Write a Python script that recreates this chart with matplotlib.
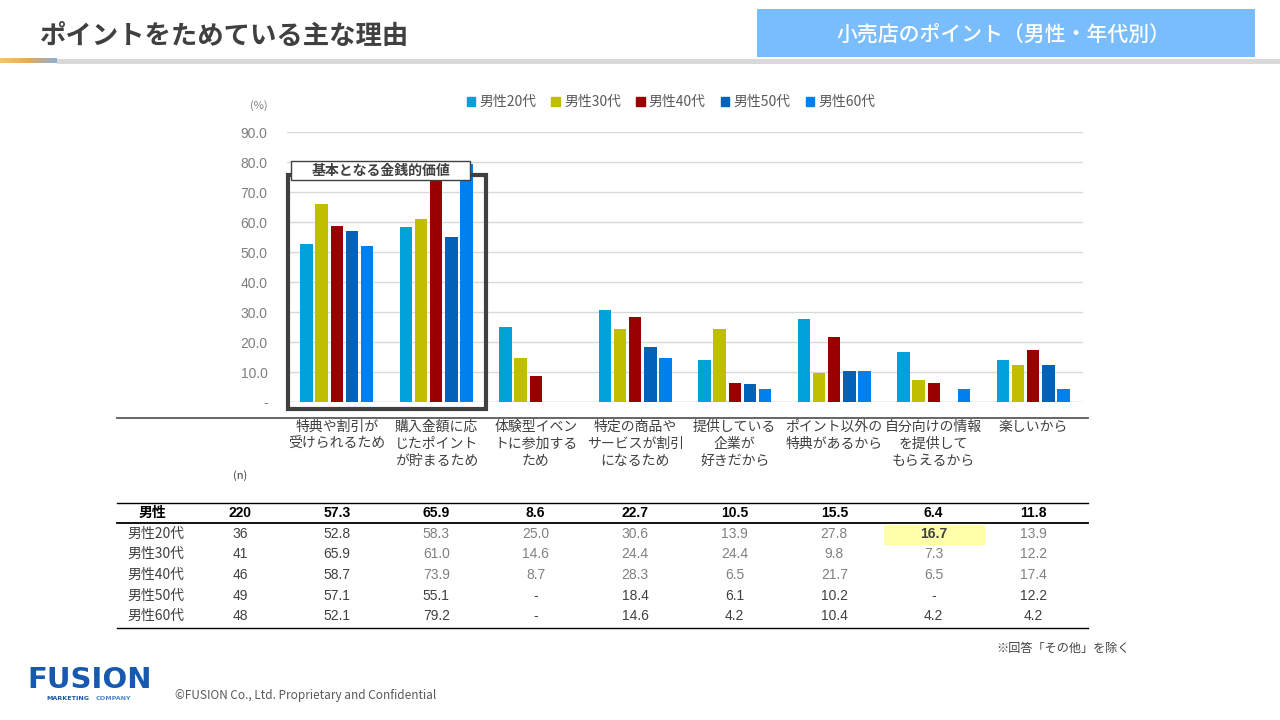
import matplotlib
matplotlib.use("Agg")
import matplotlib.pyplot as plt
from matplotlib.patches import Rectangle, Patch
from matplotlib.colors import LinearSegmentedColormap
import numpy as np

plt.rcParams['font.family'] = ['Noto Sans CJK JP', 'DejaVu Sans']

# ---------------- data ----------------
categories = ["特典や割引が\n受けられるため", "購入金額に応\nじたポイント\nが貯まるため",
              "体験型イベン\nトに参加する\nため", "特定の商品や\nサービスが割引\nになるため",
              "提供している\n企業が\n好きだから", "ポイント以外の\n特典があるから",
              "自分向けの情報\nを提供して\nもらえるから", "楽しいから"]
series_names = ["男性20代", "男性30代", "男性40代", "男性50代", "男性60代"]
s20 = [52.8, 58.3, 25.0, 30.6, 13.9, 27.8, 16.7, 13.9]
s30 = [65.9, 61.0, 14.6, 24.4, 24.4, 9.8, 7.3, 12.2]
s40 = [58.7, 73.9, 8.7, 28.3, 6.5, 21.7, 6.5, 17.4]
s50 = [57.1, 55.1, None, 18.4, 6.1, 10.2, None, 12.2]
s60 = [52.1, 79.2, None, 14.6, 4.2, 10.4, 4.2, 4.2]
total_label = "男性"
total_values = [57.3, 65.9, 8.6, 22.7, 10.5, 15.5, 6.4, 11.8]
n_total = 220
n_series = [36, 41, 46, 49, 48]
yticks = [0, 10, 20, 30, 40, 50, 60, 70, 80, 90]
ytick_labels = ["-", "10.0", "20.0", "30.0", "40.0", "50.0", "60.0", "70.0", "80.0", "90.0"]
colors = ["#00A2D9", "#BFBF00", "#990000", "#0062B8", "#0080EE"]

series = [s20, s30, s40, s50, s60]

W, H = 1280, 720
fig = plt.figure(figsize=(12.8, 7.2), dpi=100)

# overlay axes in pixel coordinates
ov = fig.add_axes([0, 0, 1, 1])
ov.set_xlim(0, W)
ov.set_ylim(H, 0)
ov.axis('off')
ov.set_zorder(0)

# ---------- header ----------
ov.text(40, 37, "ポイントをためている主な理由", fontsize=19, fontweight='bold',
        color='#404040', va='center', ha='left')
ov.add_patch(Rectangle((57, 59), W - 57, 4.5, color='#D9D9D9', lw=0))
grad = np.linspace(0, 1, 100).reshape(1, -1)
cm = LinearSegmentedColormap.from_list('g', ['#F8C27A', '#E8A860', '#8BB0D0'])
ov.imshow(grad, cmap=cm, extent=(0, 57, 63.5, 59), aspect='auto')
ov.add_patch(Rectangle((757, 9), 498, 48, color='#79BDFD', lw=0))
ov.text(1003, 35, "小売店のポイント（男性・年代別）", fontsize=15, color='white',
        fontweight='medium', ha='center', va='center')

# ---------- chart ----------
left_px, right_px, top_px, bot_px = 287, 1083, 132, 402
ax = fig.add_axes([left_px / W, 1 - bot_px / H, (right_px - left_px) / W, (bot_px - top_px) / H])
ax.set_zorder(2)
ax.patch.set_alpha(0)
x = np.arange(len(categories))
bw = 0.125
pitch = 0.152
for i, (vals, c) in enumerate(zip(series, colors)):
    v = [0 if a is None else a for a in vals]
    ax.bar(x + (i - 2) * pitch, v, width=bw, color=c, zorder=3)
ax.set_xlim(-0.5, len(categories) - 0.5)
ax.set_ylim(0, 90)
ax.set_yticks(yticks)
ax.set_yticklabels(ytick_labels, fontsize=10, color='#7F7F7F', family=['Liberation Sans', 'DejaVu Sans'])
ax.tick_params(axis='y', length=0, pad=14)
ax.set_xticks([])
ax.grid(axis='y', color='#D9D9D9', lw=1, zorder=0)
for s in ax.spines.values():
    s.set_visible(False)
ax.axhline(0, color='#D9D9D9', lw=1, zorder=1)
ax.set_axisbelow(True)

ov.text(259, 106, "(%)", fontsize=8, color='#7F7F7F', ha='center', va='center')

handles = [Patch(color=c, label=n) for c, n in zip(colors, series_names)]
leg = fig.legend(handles=handles, loc='center', bbox_to_anchor=(671 / W, 1 - 102 / H), ncol=5,
                 frameon=False, fontsize=10, handlelength=0.6, handleheight=0.6,
                 handletextpad=0.3, columnspacing=1.1, labelcolor='#595959')

# highlight box around first two categories
top_ov = fig.add_axes([0, 0, 1, 1])
top_ov.set_xlim(0, W)
top_ov.set_ylim(H, 0)
top_ov.axis('off')
top_ov.set_zorder(3)
top_ov.add_patch(Rectangle((288, 175), 198, 234, fill=False, ec='#404040', lw=3))
top_ov.add_patch(Rectangle((291, 161), 179, 19, fc='white', ec='#404040', lw=1))
top_ov.text(380.5, 171, "基本となる金銭的価値", fontsize=10, fontweight='bold',
            color='#404040', ha='center', va='center')

# separator line
ov.plot([117, 1088], [417.5, 417.5], color='#595959', lw=1.3)

cat_px = [left_px + (i + 0.5) * (right_px - left_px) / len(categories) for i in range(len(categories))]
for cx, lab in zip(cat_px, categories):
    ov.text(cx, 420, lab, fontsize=10, color='#404040', ha='center', va='top', linespacing=1.28)

# ---------- table ----------
ov.text(240, 476, "(n)", fontsize=8, color='#404040', ha='center', va='center')
num_font = ['Liberation Sans', 'Noto Sans CJK JP']
row_y = [513, 534, 554, 575, 596, 616]
label_x = 156
n_x = 240
ov.add_patch(Rectangle((884, 525), 101, 20, color='#FFFFAA', lw=0))
ov.plot([117, 1088], [503, 503], color='black', lw=1)
ov.plot([117, 1088], [523, 523], color='black', lw=1.3)
ov.plot([117, 1088], [628, 628], color='black', lw=1)

ov.text(label_x - 4, row_y[0], total_label, fontsize=10, fontweight='bold', color='#000000',
        ha='center', va='center')
ov.text(n_x, row_y[0], str(n_total), fontsize=10, fontweight='bold', color='#000000',
        ha='center', va='center', family=num_font)
for cx, v in zip(cat_px, total_values):
    ov.text(cx, row_y[0], f"{v:.1f}", fontsize=10, fontweight='bold', color='#000000',
            ha='center', va='center', family=num_font)

for r, (name, nn, vals) in enumerate(zip(series_names, n_series, series)):
    y = row_y[r + 1]
    ov.text(label_x, y, name, fontsize=10, color='#404040', ha='center', va='center')
    ov.text(n_x, y, str(nn), fontsize=10, color='#404040', ha='center', va='center', family=num_font)
    for j, (cx, v) in enumerate(zip(cat_px, vals)):
        txt = "-" if v is None else f"{v:.1f}"
        col = '#808080' if (j >= 1 and r <= 2) else '#404040'
        weight = 'normal'
        if r == 0 and j == 6:
            col, weight = '#404040', 'bold'
        ov.text(cx, y, txt, fontsize=10, color=col, fontweight=weight, ha='center', va='center',
                family=num_font)

ov.text(1130, 648, "※回答「その他」を除く", fontsize=8.7, color='#404040', ha='right', va='center')

# ---------- footer ----------
ov.text(27, 680, "FUSION", fontsize=21, fontweight='bold', color='#1659AE', ha='left', va='center',
        family=['DejaVu Sans'])
ov.text(46, 698, "MARKETING", fontsize=4.6, fontweight='bold', color='#1659AE', ha='left', va='center',
        family=['DejaVu Sans'])
ov.text(96, 698, "COMPANY", fontsize=4.6, fontweight='bold', color='#4A8AD0', ha='left', va='center',
        family=['DejaVu Sans'])
ov.text(175, 695, "©FUSION Co., Ltd. Proprietary and Confidential", fontsize=8.5, color='#595959',
        ha='left', va='center')

fig.savefig("out.png", dpi=100)
